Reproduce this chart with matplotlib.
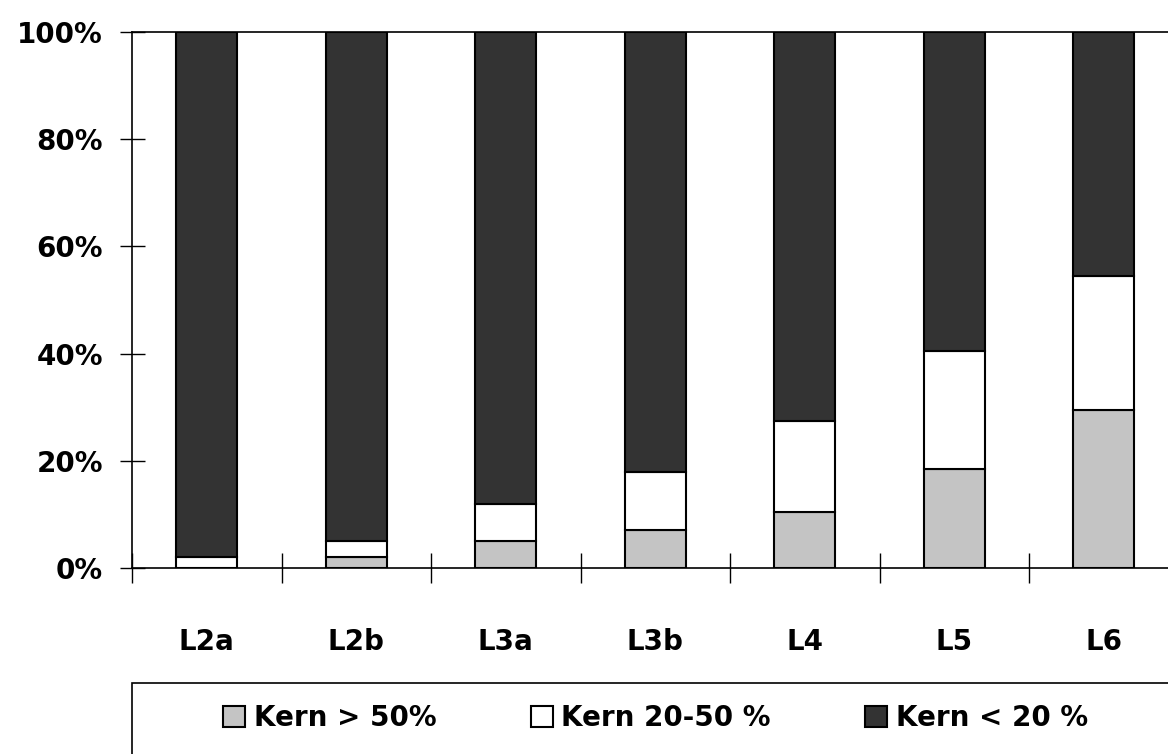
import numpy as np
import matplotlib.pyplot as plt
from matplotlib.patches import Rectangle

categories = ["L2a", "L2b", "L3a", "L3b", "L4", "L5", "L6"]
kern_gt50 = [0, 2, 5, 7, 10.5, 18.5, 29.5]
kern_20_50 = [2, 3, 7, 11, 17, 22, 25]
kern_lt20 = [98, 95, 88, 82, 72.5, 59.5, 45.5]
series_labels = ["Kern > 50%", "Kern 20-50 %", "Kern < 20 %"]
colors = ["#c4c4c4", "#ffffff", "#333333"]

fig = plt.figure(figsize=(11.68, 7.54), dpi=100)
ax = fig.add_axes([132 / 1168, 186 / 754, 1046.5 / 1168, 536 / 754])

x = np.arange(len(categories))
bottom = np.zeros(len(categories))
handles = []
for vals, lab, col in zip([kern_gt50, kern_20_50, kern_lt20], series_labels, colors):
    b = ax.bar(x, vals, width=0.41, bottom=bottom, color=col, edgecolor="black",
               linewidth=1.5, label=lab)
    handles.append(b)
    bottom = bottom + np.array(vals)

ax.set_xlim(-0.5, len(categories) - 0.5)
ax.set_ylim(0, 100)
ax.set_yticks([0, 20, 40, 60, 80, 100])
ax.set_yticklabels(["0%", "20%", "40%", "60%", "80%", "100%"])
ax.set_xticks(x)
ax.set_xticklabels(categories)
ax.set_xticks(np.arange(len(categories) + 1) - 0.5, minor=True)

ax.tick_params(axis="y", direction="inout", length=18, width=1, pad=12,
               labelsize=20)
ax.tick_params(axis="x", which="major", length=0, pad=43, labelsize=20)
ax.tick_params(axis="x", which="minor", direction="inout", length=22, width=1)
for lbl in ax.get_xticklabels() + ax.get_yticklabels():
    lbl.set_fontweight("bold")

for s in ax.spines.values():
    s.set_linewidth(1.2)

# legend box
fig.patches.append(Rectangle((132 / 1168, -0.05), 0.9, 0.05 + 71 / 754,
                             transform=fig.transFigure, fill=False,
                             edgecolor="black", linewidth=1.2))
leg = fig.legend(handles=handles, labels=series_labels, loc="center left",
                 bbox_to_anchor=(198 / 1168, 36 / 754), ncol=3, frameon=False,
                 prop={"size": 20, "weight": "bold"}, handlelength=0.8,
                 handleheight=0.8, handletextpad=0.3, columnspacing=3.4)

fig.savefig("out.png", dpi=100)
